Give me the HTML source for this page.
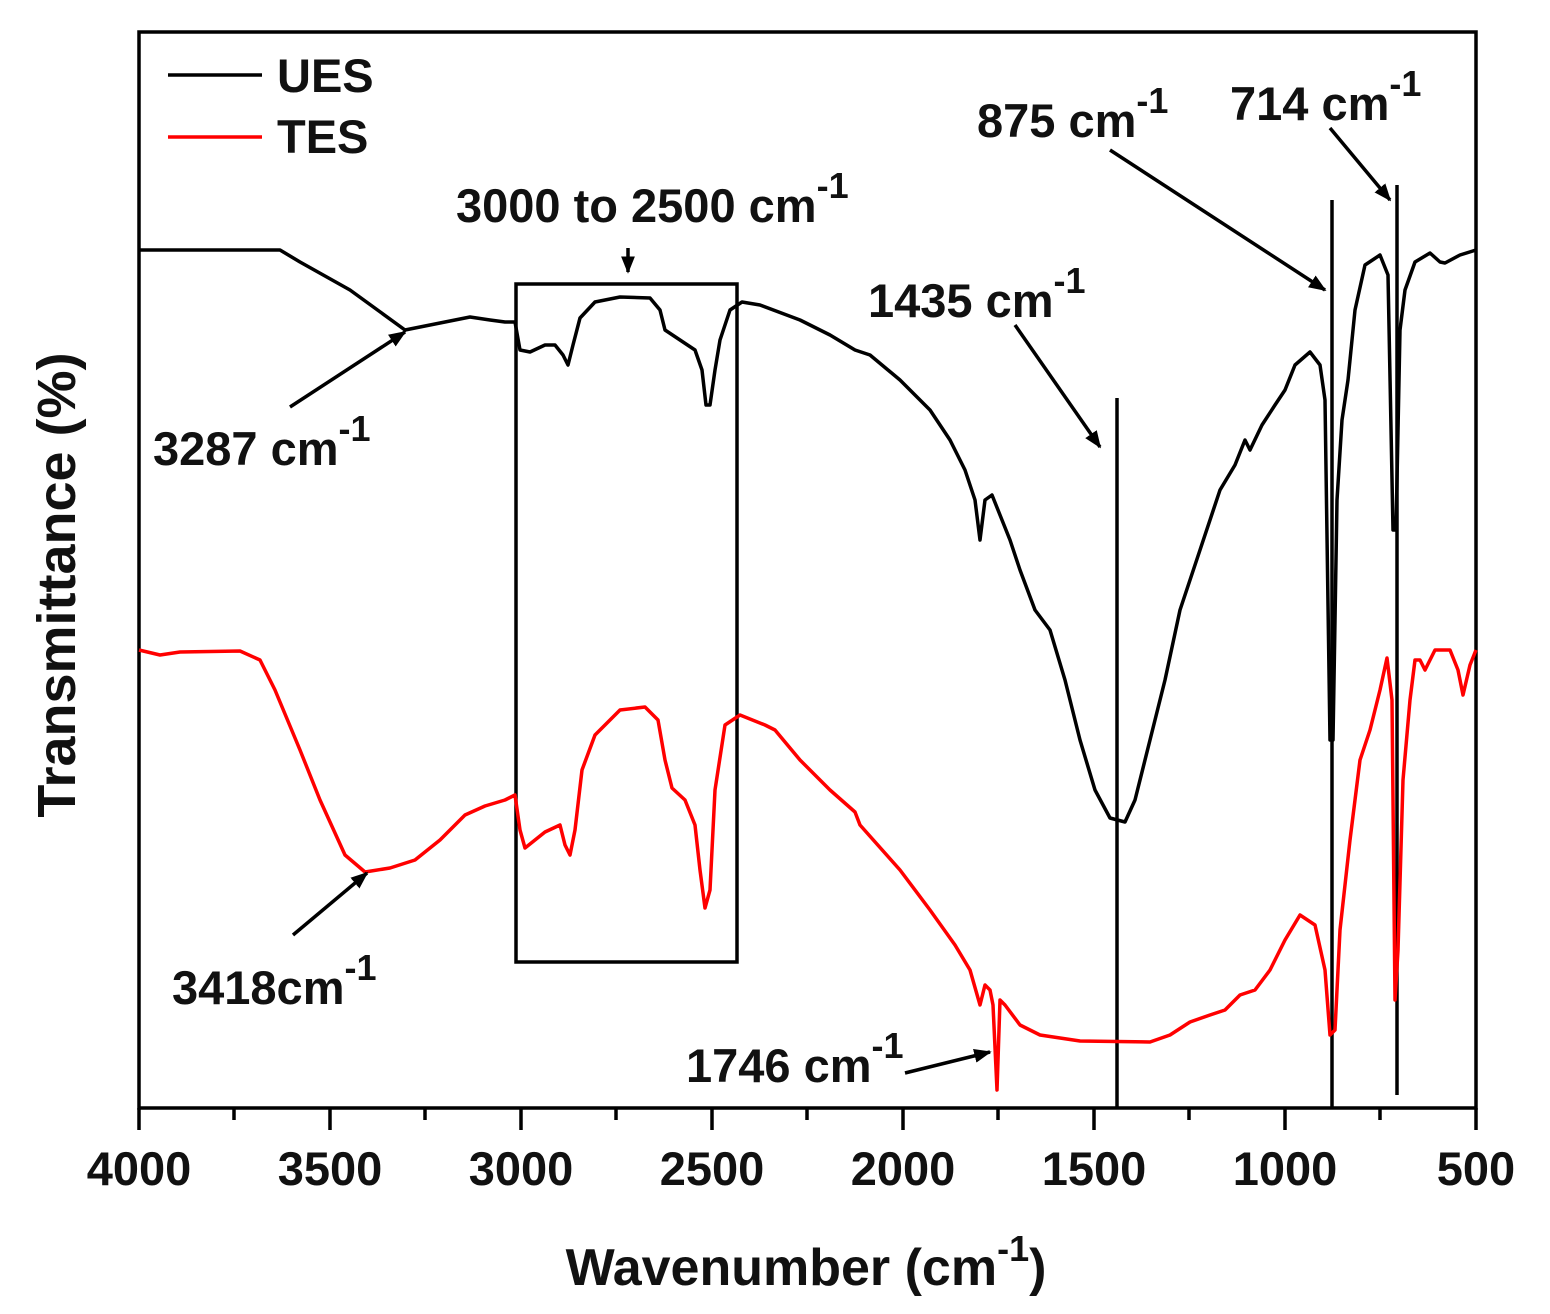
<!DOCTYPE html>
<html><head><style>body{margin:0;background:#fff}svg{display:block}text{font-family:"Liberation Sans",Arial,sans-serif;font-weight:bold;fill:#111}</style></head>
<body>
<svg width="1550" height="1314" viewBox="0 0 1550 1314" xmlns="http://www.w3.org/2000/svg">
<defs><marker id="ah" viewBox="0 0 10 10" refX="9" refY="5" markerWidth="5" markerHeight="5" orient="auto"><path d="M0,1 L10,5 L0,9 z" fill="#000"/></marker></defs>
<rect x="139" y="32" width="1337" height="1076" fill="none" stroke="#000" stroke-width="3.5"/>
<g stroke="#000" stroke-width="3.5">
<line x1="139" y1="1108" x2="139" y2="1130"/><line x1="330" y1="1108" x2="330" y2="1130"/><line x1="521" y1="1108" x2="521" y2="1130"/><line x1="712" y1="1108" x2="712" y2="1130"/><line x1="903" y1="1108" x2="903" y2="1130"/><line x1="1094" y1="1108" x2="1094" y2="1130"/><line x1="1285" y1="1108" x2="1285" y2="1130"/><line x1="1476" y1="1108" x2="1476" y2="1130"/>
<line x1="234" y1="1108" x2="234" y2="1120"/><line x1="425" y1="1108" x2="425" y2="1120"/><line x1="616" y1="1108" x2="616" y2="1120"/><line x1="807" y1="1108" x2="807" y2="1120"/><line x1="998" y1="1108" x2="998" y2="1120"/><line x1="1189" y1="1108" x2="1189" y2="1120"/><line x1="1380" y1="1108" x2="1380" y2="1120"/>
</g>
<g font-size="47" text-anchor="middle">
<text x="139" y="1185">4000</text><text x="330" y="1185">3500</text><text x="521" y="1185">3000</text><text x="712" y="1185">2500</text><text x="903" y="1185">2000</text><text x="1094" y="1185">1500</text><text x="1285" y="1185">1000</text><text x="1476" y="1185">500</text>
</g>
<text x="806" y="1285" font-size="52" text-anchor="middle">Wavenumber (cm<tspan font-size="36" dy="-24">-1</tspan><tspan dy="24">)</tspan></text>
<text transform="translate(75,585) rotate(-90)" font-size="54" text-anchor="middle">Transmittance (%)</text>
<rect x="516" y="284" width="221" height="678" fill="none" stroke="#000" stroke-width="3.5"/>
<g stroke="#000" stroke-width="3.5">
<line x1="1117" y1="398" x2="1117" y2="1108"/><line x1="1332" y1="200" x2="1332" y2="1108"/><line x1="1397" y1="185" x2="1397" y2="1095"/>
</g>
<polyline fill="none" stroke="#000" stroke-width="3.5" stroke-linejoin="round" points="139,250 280,250 300,262 350,290 405,330 440,323 470,317 490,320 505,322 515,322 520,350 530,352 545,345 555,345 563,355 568,365 573,345 580,318 595,302 620,297 650,298 660,310 665,330 680,340 695,350 702,370 706,405 710,405 715,370 720,340 730,310 742,302 760,305 800,320 830,335 855,350 870,355 900,380 930,410 950,440 965,470 975,500 980,540 985,500 992,495 1000,515 1010,540 1020,570 1035,610 1050,630 1065,680 1080,740 1095,790 1110,818 1125,822 1135,800 1150,740 1165,680 1180,610 1200,550 1220,490 1235,465 1245,440 1250,450 1262,425 1275,405 1285,390 1295,365 1310,352 1320,365 1325,400 1330,740 1333,740 1337,500 1342,420 1348,380 1355,310 1365,265 1380,255 1388,275 1393,530 1396,530 1400,330 1405,290 1415,262 1430,253 1440,262 1445,263 1460,255 1476,250"/>
<polyline fill="none" stroke="#f00" stroke-width="3.5" stroke-linejoin="round" points="139,650 160,655 180,652 240,651 260,660 275,690 300,750 320,800 345,855 365,872 390,868 415,860 440,840 465,815 485,806 505,800 515,795 520,830 525,848 535,840 545,832 560,825 565,845 570,855 575,830 582,770 595,735 620,710 645,707 658,720 665,760 672,788 685,800 695,825 700,870 705,908 710,890 715,790 725,725 740,715 765,725 775,730 800,760 830,790 855,812 860,825 900,870 930,910 955,945 970,970 980,1005 985,985 990,990 993,1005 997,1090 1000,1000 1005,1005 1020,1025 1040,1035 1080,1041 1150,1042 1170,1035 1190,1022 1210,1015 1225,1010 1240,995 1255,990 1270,970 1285,940 1300,915 1315,925 1325,970 1330,1035 1335,1030 1340,930 1350,840 1360,760 1370,730 1380,690 1387,658 1392,700 1395,1000 1398,950 1403,780 1410,700 1415,660 1420,660 1425,670 1430,660 1435,650 1450,650 1458,670 1463,695 1470,665 1476,650"/>
<g stroke="#000" stroke-width="3.5" marker-end="url(#ah)">
<line x1="628" y1="248" x2="628" y2="272"/><line x1="1110" y1="150" x2="1325" y2="290"/><line x1="1330" y1="128" x2="1390" y2="200"/><line x1="1015" y1="325" x2="1100" y2="447"/><line x1="290" y1="407" x2="405" y2="332"/><line x1="293" y1="935" x2="367" y2="873"/><line x1="905" y1="1073" x2="990" y2="1052"/>
</g>
<g font-size="47">
<text x="456" y="222">3000 to 2500 cm<tspan font-size="36" dy="-24">-1</tspan></text>
<text x="977" y="137">875 cm<tspan font-size="36" dy="-24">-1</tspan></text>
<text x="1230" y="120">714 cm<tspan font-size="36" dy="-24">-1</tspan></text>
<text x="868" y="317">1435 cm<tspan font-size="36" dy="-24">-1</tspan></text>
<text x="153" y="465">3287 cm<tspan font-size="36" dy="-24">-1</tspan></text>
<text x="172" y="1004">3418cm<tspan font-size="36" dy="-24">-1</tspan></text>
<text x="686" y="1082">1746 cm<tspan font-size="36" dy="-24">-1</tspan></text>
</g>
<line x1="168" y1="75" x2="262" y2="75" stroke="#000" stroke-width="3.5"/>
<line x1="168" y1="137" x2="262" y2="137" stroke="#f00" stroke-width="3.5"/>
<text x="277" y="92" font-size="47">UES</text>
<text x="277" y="153" font-size="47">TES</text>
</svg>
</body></html>
